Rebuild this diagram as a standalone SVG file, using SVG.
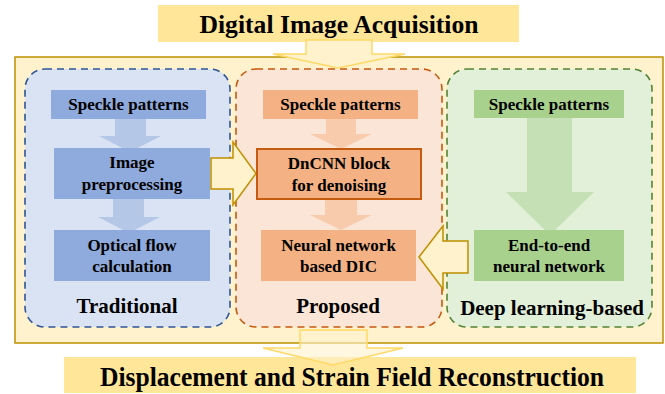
<svg xmlns="http://www.w3.org/2000/svg" width="665" height="394" viewBox="0 0 665 394">
<rect width="665" height="394" fill="#fff"/>
<g id="title-top"><rect x="158" y="5" width="361" height="37" fill="#FFE699"/><text font-family="Times New Roman, Liberation Serif, serif" font-weight="bold" font-size="26" text-anchor="middle" x="339" y="33" textLength="279" lengthAdjust="spacingAndGlyphs">Digital Image Acquisition</text></g>
<g id="outer"><rect x="15" y="57" width="648" height="286" fill="#FFF2CC" stroke="#BF9000" stroke-width="1.5"/></g>
<g id="group-traditional"><rect stroke-width="1.6" stroke-dasharray="7 5" x="25" y="69" width="205" height="258" rx="20" fill="#DAE3F3" stroke="#2F5597"/><text font-family="Times New Roman, Liberation Serif, serif" font-weight="bold" font-size="21" text-anchor="middle" x="127" y="313">Traditional</text></g>
<g id="group-proposed"><rect stroke-width="1.6" stroke-dasharray="7 5" x="236" y="69" width="206" height="258" rx="20" fill="#FBE5D6" stroke="#C55A11"/><text font-family="Times New Roman, Liberation Serif, serif" font-weight="bold" font-size="21" text-anchor="middle" x="338" y="313">Proposed</text></g>
<g id="group-deep"><rect stroke-width="1.6" stroke-dasharray="7 5" x="447" y="69" width="205" height="258" rx="20" fill="#E2F0D9" stroke="#548235"/><text font-family="Times New Roman, Liberation Serif, serif" font-weight="bold" font-size="21" text-anchor="middle" x="552" y="315">Deep learning-based</text></g>
<g id="connectors">
<polygon fill="#B4C7E7" points="115,118 146,118 146,136 161,136 130,152 99,136 115,136"/>
<polygon fill="#B4C7E7" points="113,199 144,199 144,217 160,217 129,233 98,217 113,217"/>
<polygon fill="#F8CBAD" points="326,119 356,119 356,134 372,134 341,149 310,134 326,134"/>
<polygon fill="#F8CBAD" points="325,199 357,199 357,215 372,215 341,230 310,215 325,215"/>
<polygon fill="#C5E0B4" points="527,118 572,118 572,192 594,192 550,235 506,192 527,192"/>
<g fill="#FFF2CC" stroke="#BF9000" stroke-width="1.5">
<polygon points="211,158 233,158 233,142 256,173.5 233,205 233,189 211,189"/>
<polygon points="468,241 443,241 443,226 419,257 443,289 443,273 468,273"/>
</g>
<polygon fill="#FFF2CC" stroke="#FFD966" stroke-width="1.5" points="306,40 372,40 372,54 405,54 338,68 273,54 306,54"/>
</g>
<g font-family="Times New Roman, Liberation Serif, serif" font-weight="bold" font-size="17" text-anchor="middle">
<g id="n-speckle-1"><rect x="51" y="90" width="155" height="29" fill="#8FAADC"/><text x="128.5" y="110">Speckle patterns</text></g>
<g id="n-image"><rect x="54" y="148" width="156" height="51" fill="#8FAADC"/><text x="132" y="168">Image</text><text x="132" y="190">preprocessing</text></g>
<g id="n-optical"><rect x="54" y="230" width="156" height="51" fill="#8FAADC"/><text x="132" y="251">Optical flow</text><text x="132" y="272">calculation</text></g>
<g id="n-speckle-2"><rect x="263" y="90" width="155" height="29" fill="#F4B183"/><text x="340.5" y="110">Speckle patterns</text></g>
<g id="n-dncnn"><rect x="257" y="149" width="164" height="50" fill="#F4B183" stroke="#C55A11" stroke-width="2"/><text x="339" y="169">DnCNN block</text><text x="339" y="191">for denoising</text></g>
<g id="n-nndic"><rect x="261" y="230" width="155" height="51" fill="#F4B183"/><text x="338.5" y="251">Neural network</text><text x="338.5" y="272">based DIC</text></g>
<g id="n-speckle-3"><rect x="474" y="90" width="150" height="28" fill="#A9D18E"/><text x="549" y="110">Speckle patterns</text></g>
<g id="n-e2e"><rect x="474" y="230" width="150" height="51" fill="#A9D18E"/><text x="549" y="251">End-to-end</text><text x="549" y="272">neural network</text></g>
</g>
<g id="title-bottom"><rect x="64" y="357" width="572" height="36" fill="#FFE699"/><text font-family="Times New Roman, Liberation Serif, serif" font-weight="bold" font-size="27" text-anchor="middle" x="352" y="386" textLength="504" lengthAdjust="spacingAndGlyphs">Displacement and Strain Field Reconstruction</text></g>
<g id="connector-bottom"><polygon fill="#FFF2CC" fill-opacity="0.6" stroke="#FFD966" stroke-width="1.5" points="300,330 367,330 367,348 403,348 333,365 263,348 300,348"/></g>
</svg>
